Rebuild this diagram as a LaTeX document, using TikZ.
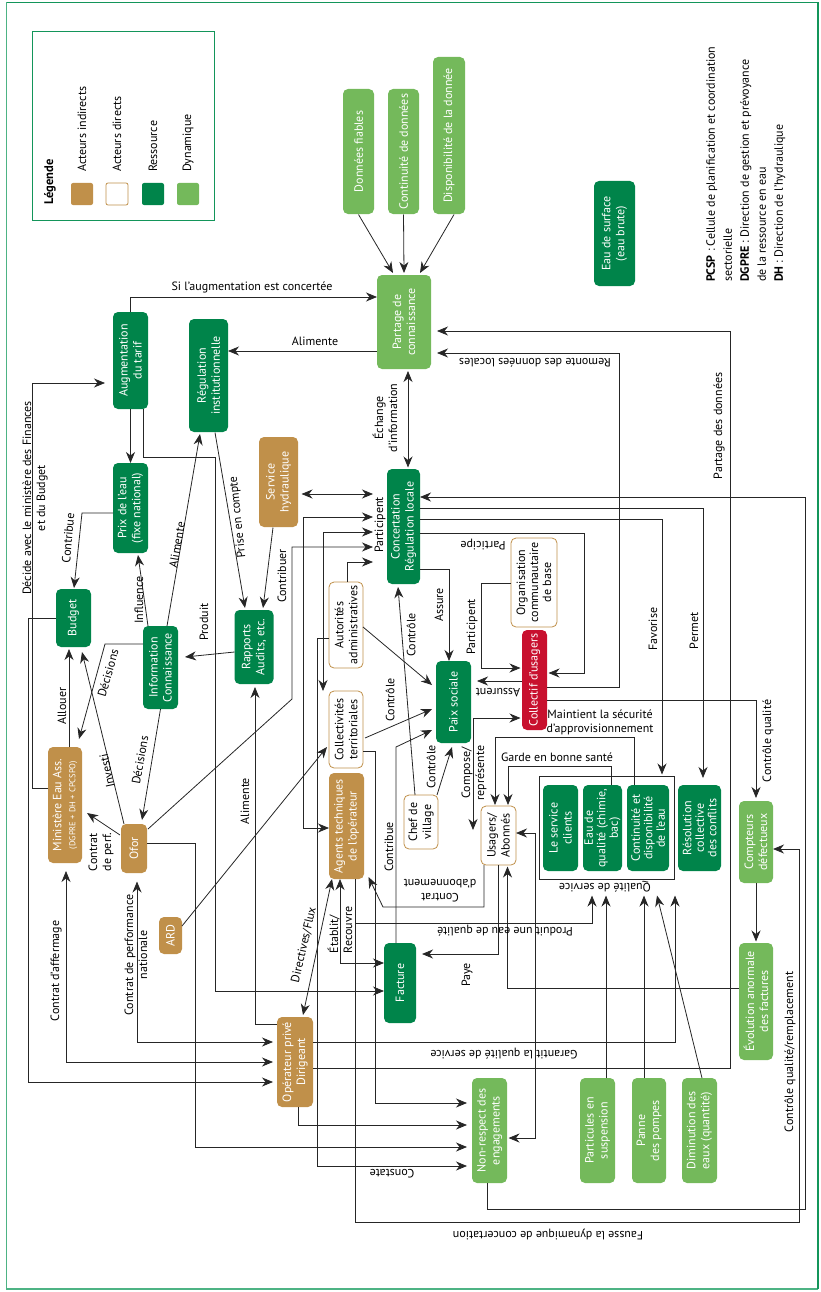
\documentclass[tikz,border=0pt]{standalone}
\usepackage{fontspec}
\setmainfont{PT Sans}
\usetikzlibrary{arrows.meta,calc}
\definecolor{cind}{HTML}{C0904A}
\definecolor{cres}{HTML}{00844A}
\definecolor{cdyn}{HTML}{74B95B}
\definecolor{cred}{HTML}{C8102E}
\definecolor{cframe}{HTML}{13955A}
\definecolor{cframel}{HTML}{4DB384}
\newcommand{\nf}{\fontsize{12}{14}\selectfont}
\begin{document}
\begin{tikzpicture}[x=1pt,y=-1pt,
  box/.style={rounded corners=5pt, inner sep=0.5pt, align=center, rotate=90, font=\nf},
  sz/.style 2 args={minimum height=#1pt, minimum width=#2pt},
  res/.style={box, fill=cres, text=white},
  dyn/.style={box, fill=cdyn, text=white},
  ind/.style={box, fill=cind, text=white},
  dir/.style={box, draw=cind, line width=0.8pt, fill=white, text=black},
  coll/.style={box, fill=cred, text=white},
  lab/.style={font=\nf, inner sep=1pt, align=center},
  labr/.style={lab, rotate=90},
  labu/.style={lab, rotate=180},
  ln/.style={draw=black!85, line width=0.8pt},
  arr/.style={ln, -{Stealth[length=11pt,width=9pt,inset=3.5pt]}},
  arr2/.style={ln, {Stealth[length=11pt,width=9pt,inset=3.5pt]}-{Stealth[length=11pt,width=9pt,inset=3.5pt]}}
]
\useasboundingbox (0,0) rectangle (820,1292);
\draw[cframel, line width=1.2pt] (818,1289) -- (6.5,1289) -- (6.5,2.5);
\draw[cframe, line width=1.2pt] (6.5,2.5) -- (818,2.5) -- (818,1289);

% legend
\draw[cframe, line width=0.8pt] (32,31) rectangle (214,220);
\node[labr, anchor=west, font=\fontsize{12.5}{14}\selectfont\bfseries] (lgt) at (50,206) {Légende};
\node[ind, minimum size=22pt, rounded corners=2pt] (lg1) at (82,194) {};
\node[dir, minimum size=22pt, rounded corners=2pt] (lg2) at (117,194) {};
\node[res, minimum size=22pt, rounded corners=2pt] (lg3) at (153,194) {};
\node[dyn, minimum size=22pt, rounded corners=2pt] (lg4) at (188,194) {};
\node[labr, anchor=west] (lgl1) at (82,173) {Acteurs indirects};
\node[labr, anchor=west] (lgl2) at (117,173) {Acteurs directs};
\node[labr, anchor=west] (lgl3) at (153,173) {Ressource};
\node[labr, anchor=west] (lgl4) at (188,173) {Dynamique};

% notes
\node[labr, anchor=north west, align=left, font=\fontsize{12}{17}\selectfont] (notes) at (705,283)
 {\textbf{PCSP} : Cellule de planification et coordination\\sectorielle\\\textbf{DGPRE} : Direction de gestion et prévoyance\\de la ressource en eau\\\textbf{DH} : Direction de l'hydraulique};

% dynamique
\node[dyn,sz={31}{125}] (donnees) at (358.5,151.5) {Données fiables};
\node[dyn,sz={31}{125}] (continuite) at (403.5,151.5) {Continuité de données};
\node[dyn,sz={32}{157}] (dispo) at (449,135.5) {Disponibilité de la donnée};
\node[dyn,sz={54}{94}] (partage) at (404,322) {Partage de\\connaissance};
\node[dyn,sz={34}{82}] (compteurs) at (756,842) {Compteurs\\défectueux};
\node[dyn,sz={34}{117}] (evolution) at (756,1001.5) {Évolution anormale\\des factures};
\node[dyn,sz={35}{105}] (nonrespect) at (489.5,1130.5) {Non-respect des\\engagements};
\node[dyn,sz={35}{105}] (particules) at (597.5,1130.5) {Particules en\\suspension};
\node[dyn,sz={34}{105}] (panne) at (649,1130.5) {Panne\\des pompes};
\node[dyn,sz={35}{105}] (diminution) at (699.5,1130.5) {Diminution des\\eaux (quantité)};

% ressources
\node[res,sz={41}{105}] (eausurf) at (614.5,233.5) {Eau de surface\\(eau brute)};
\node[res,sz={35}{97}] (augm) at (130.5,360.5) {Augmentation\\du tarif};
\node[res,sz={39}{113}] (regul) at (208.5,375.5) {Régulation\\institutionnelle};
\node[res,sz={35}{90}] (prix) at (130.5,508) {Prix de l'eau\\(fixe national)};
\node[res,sz={35}{58}] (budget) at (73.5,618) {Budget};
\node[res,sz={35}{83}] (info) at (160.5,667.5) {Information\\Connaissance};
\node[res,sz={39}{74}] (rapports) at (254,647) {Rapports\\Audits, etc.};
\node[res,sz={33}{115}] (concert) at (403.5,526.5) {Concertation\\Régulation locale};
\node[res,sz={35}{82}] (paix) at (453.5,702) {Paix sociale};
\node[res,sz={32}{80}] (facture) at (400,983) {Facture};
\node[draw=black!85, line width=0.8pt, minimum width=135pt, minimum height=103pt, inner sep=0pt] (qualite) at (606.5,827.5) {};
\node[res,sz={35}{86}] (servcli) at (560.5,828) {Le service\\clients};
\node[res,sz={39}{86}, font=\fontsize{12}{12.5}\selectfont] (eauqual) at (602.5,828) {Eau de\\qualité (chimie,\\bac)};
\node[res,sz={42}{86}, font=\fontsize{12}{12.5}\selectfont] (contdisp) at (648,828) {Continuité et\\disponibilité\\de l'eau};
\node[res,sz={43}{86}, font=\fontsize{12}{12.5}\selectfont] (resol) at (699.5,828) {Résolution\\collective\\des conflits};

% acteurs indirects
\node[ind,sz={39}{90}] (shydr) at (278.5,482) {Service\\hydraulique};
\node[ind,sz={35}{106}] (agents) at (346.5,826) {Agents techniques\\de l'opérateur};
\node[ind,sz={36}{90}] (operateur) at (295,1062) {Opérateur privé\\Dirigeant};
\node[ind,sz={34}{116}] (ministere) at (65,805) {Ministère Eau Ass.\\{\fontsize{8.5}{10}\selectfont (DGPRE + DH + CPCSPO)}};
\node[ind,sz={26}{49}] (ofor) at (134,848.5) {Ofor};
\node[ind,sz={23}{37}] (ard) at (170.5,935.5) {ARD};

% acteurs directs
\node[dir,sz={46}{89}, font=\fontsize{12}{13}\selectfont] (orga) at (534,582.5) {Organisation\\communautaire\\de base};
\node[dir,sz={34}{86}] (autorites) at (346,625) {Autorités\\administratives};
\node[dir,sz={34}{77}] (collectivites) at (346,729.5) {Collectivités\\territoriales};
\node[dir,sz={34}{54}] (chef) at (421,822) {Chef de\\village};
\node[dir,sz={35}{59}] (usagers) at (498.5,835.5) {Usagers/\\Abonnés};
\node[coll,sz={25}{100}] (collectif) at (534.5,680) {Collectif d'usagers};

% ---------------- connectors ----------------
\draw[arr] ($(augm)+(0,-48.5)$) |- ($(partage)+(-27,-25)$);
\node[lab] (t1) at (252,287) {Si l'augmentation est concertée};
\draw[arr] ($(partage)+(-27,29)$) -- ($(regul)+(19.5,-24.5)$);
\node[lab] (t2) at (315,341) {Alimente};
\draw[arr] ($(operateur)+(18,6)$) -- (730,1068) -- (730,331) -- ($(partage)+(33,9)$);
\node[labr] (t3) at (719,426) {Partage des données};
\node[labu] (t4) at (504,1054) {Garantit la qualité de service};
\draw[arr] ($(collectif)+(12.5,7)$) -- (619,687) -- (619,353) -- ($(partage)+(33,31)$);
\node[labu] (t5) at (535,363) {Remonte des données locales};
\draw[arr] ($(donnees)+(0,63)$) -- ($(partage)+(-11,-49)$);
\draw[arr] ($(continuite)+(0,63)$) -- ($(partage)+(0,-49)$);
\draw[arr] ($(dispo)+(5,79)$) -- ($(partage)+(16,-49)$);
\draw[arr2] ($(partage)+(4,49)$) -- ($(concert)+(4.5,-59)$);
\node[labr] (t6) at (385,418) {Échange\\d'information};
\draw[arr2] ($(shydr)+(23,12)$) -- ($(concert)+(-30.5,-32.5)$);
\draw[arr2] ($(agents)+(-17.5,2)$) -| (303,517) -- ($(concert)+(-30.5,-9.5)$);
\draw[arr2] ($(concert)+(-30.5,5.5)$) -| ($(collectivites)+(-23,-38.5)$);
\draw[arr] ($(ofor)+(14,-19.5)$) -- (292,699) |- ($(concert)+(-30.5,20.5)$);
\node[labr] (t7) at (282,576) {Contribuer};
\draw[arr] ($(autorites)+(1,-43)$) |- ($(concert)+(-30.5,35.5)$);
\node[labr] (t8) at (380,525) {Participent};
\draw[arr] ($(autorites)+(-17,13)$) -- (317,638) -- (317,1166) -- ($(nonrespect)+(-22.5,35.5)$);
\node[labu] (t9) at (392,1174) {Constate};
\draw[arr] ($(concert)+(16.5,42.5)$) -| ($(paix)+(-4.5,-41)$);
\node[labr] (t10) at (439,605) {Assure};
\draw[arr] ($(nonrespect)+(-2.5,52.5)$) -- (487,1209) -- (805,1209) -- (805,497) -- ($(concert)+(16.5,-29.5)$);
\node[labu] (t11) at (548,1235) {Fausse la dynamique de concertation};
\draw[arr] ($(concert)+(16.5,-18.5)$) -| ($(resol)+(3.5,-50)$);
\node[labr] (t12) at (694,631) {Permet};
\draw[arr] ($(concert)+(16.5,-7.5)$) -| ($(qualite)+(55.5,-53)$);
\node[labr] (t13) at (653,629) {Favorise};
\draw[arr] ($(concert)+(16.5,6.5)$) -- (584,533) -- (584,673) -- ($(collectif)+(14,-7)$);
\node[labu] (t14) at (483,545) {Participe};
\draw[arr] ($(orga)+(-23,0.5)$) -- (481,583) -- (481,668) -- ($(collectif)+(-14,-12)$);
\node[labr] (t15) at (472,627) {Participent};
\draw[arr] ($(collectif)+(-12.5,1)$) -- ($(paix)+(23.5,-21)$);
\node[labu] (t16) at (498,693) {Assurent};
\draw[arr2] ($(collectif)+(-14,38)$) -- (473,718) -- ($(usagers)+(-25.5,-5.5)$);
\node[labr] (t17) at (474,773) {Compose/\\représente};
\draw[arr] ($(collectif)+(12.5,20)$) -| ($(compteurs)+(0,-44)$);
\node[labr] (t18) at (768,741) {Contrôle qualité};
\draw[arr] ($(contdisp)+(-14,-43)$) |- (495,737) -- ($(usagers)+(-3.5,-30.5)$);
\node[lab] (t19) at (600,722) {Maintient la sécurité\\d'approvisionnement};
\draw[arr] ($(eauqual)+(8.5,-43)$) |- (508,766) -- ($(usagers)+(9.5,-30.5)$);
\node[lab] (t20) at (557,757) {Garde en bonne santé};
\draw[arr] ($(usagers)+(-14.5,29.5)$) -- (484,907) -- (383,907) -- ($(agents)+(22,51)$);
\node[labu] (t21) at (440,891) {Contrat\\d'abonnement};
\draw[arr] ($(usagers)+(0,29.5)$) |- ($(facture)+(22,-29)$);
\node[labr] (t22) at (467,975) {Paye};
\draw[arr] ($(evolution)+(-17,-13.5)$) -| ($(usagers)+(9,31)$);
\draw[arr2] ($(usagers)+(17.5,-2.5)$) -- (535,833) -- (535,1138) -- ($(nonrespect)+(19,7.5)$);
\draw[arr] ($(agents)+(8.5,53)$) |- (592,923) -- ($(qualite)+(-14.5,68)$);
\node[labu] (t23) at (505,931) {Produit une eau de qualité};
\node[labu] (t24) at (605,887) {Qualité de service};
\draw[arr] ($(agents)+(8.5,53)$) -- (355,1222) -- (799,1222) -- (799,849) -- ($(compteurs)+(17,7)$);
\node[labr] (t25) at (790,1052) {Contrôle qualité/remplacement};
\draw[arr] ($(particules)+(8.5,-52.5)$) -- ($(qualite)+(-0.5,68)$);
\draw[arr] ($(panne)+(-5,-52.5)$) -- ($(qualite)+(37.5,68)$);
\draw[arr] ($(diminution)+(2.5,-52.5)$) -- ($(qualite)+(50.5,68)$);
\draw[arr] ($(operateur)+(18,-20)$) -| ($(qualite)+(68.5,68)$);
\draw[arr] ($(compteurs)+(0,41)$) -- ($(evolution)+(0,-60)$);
\draw[arr2] ($(agents)+(-6.5,53)$) |- ($(facture)+(-16,-20)$);
\node[labr, align=left] (t26) at (340,930) {Établit/\\Recouvre};
\draw[arr2] ($(agents)+(-14.5,53)$) -- ($(operateur)+(8,-47)$);
\node[lab, rotate=77] (t27) at (304,945) {Directives/Flux};
\draw[arr] ($(collectivites)+(17,21.5)$) -- (375,751) -- (375,1103) -- ($(nonrespect)+(-22.5,-27.5)$);
\draw[arr] ($(operateur)+(3,45)$) |- ($(nonrespect)+(-22.5,-5.5)$);
\draw[arr] ($(ofor)+(13,-5.5)$) -- (195,843) |- ($(nonrespect)+(-22.5,16.5)$);
\draw[arr] ($(augm)+(12.5,48.5)$) -- (143,457) -- (215,457) |- ($(facture)+(-16,8)$);
\node[labr] (t28) at (204,622) {Produit};
\draw[arr] ($(operateur)+(-18,-38)$) -| ($(rapports)+(1,40)$);
\node[labr] (t29) at (245,801) {Alimente};
\draw[arr] ($(augm)+(0,48.5)$) -- ($(prix)+(0,-45)$);
\draw[arr] ($(info)+(-12.5,-41.5)$) -- ($(prix)+(7.5,47)$);
\node[labr] (t30) at (139,600) {Influence};
\draw[arr] ($(info)+(6.5,-41.5)$) -- ($(regul)+(-8.5,58.5)$);
\node[lab, rotate=80] (t31) at (177,545) {Alimente};
\draw[arr] ($(regul)+(6.5,57)$) -- ($(rapports)+(-9,-39)$);
\node[lab, rotate=96] (t32) at (238,517) {Prise en compte};
\draw[arr] ($(shydr)+(-5.5,45.5)$) -- ($(rapports)+(9,-39)$);
\draw[arr] ($(rapports)+(-19.5,5)$) -- ($(info)+(24.5,-10.5)$);
\draw[arr] ($(prix)+(-17.5,5)$) -- (82,513) -- ($(budget)+(0.5,-30)$);
\node[lab, rotate=85] (t33) at (68,538) {Contribue};
\draw[arr] ($(ministere)+(-17,-17)$) -- (32,788) |- ($(augm)+(-25.5,22.5)$);
\node[labr] (t34) at (35,498) {Décide avec le ministère des Finances\\et du Budget};
\draw[arr] ($(budget)+(-17.5,0)$) -- (28,618) |- ($(operateur)+(-22,20)$);
\draw[arr2] ($(ministere)+(1,66)$) -- (66,1062) -- ($(operateur)+(-22,0)$);
\node[labr] (t35) at (56,971) {Contrat d'affermage};
\draw[arr2] ($(ofor)+(3,33)$) -- (137,1042) -- ($(operateur)+(-22,-20)$);
\node[labr] (t36) at (136,955) {Contrat de performance\\nationale};
\draw[arr] ($(ministere)+(4,-58)$) -- ($(budget)+(-4.5,31)$);
\node[labr] (t37) at (62,706) {Allouer};
\draw[arr] ($(info)+(-17.5,-23.5)$) -- (105,644) -- ($(ministere)+(14,-66)$);
\node[lab, rotate=74] (t38) at (108,673) {Décisions};
\draw[arr] ($(ofor)+(-10,-24.5)$) -- ($(budget)+(8.5,34)$);
\node[lab, rotate=102] (t39) at (107,771) {Investi};
\draw[arr] ($(info)+(0,41.5)$) -- ($(ofor)+(8,-28.5)$);
\node[lab, rotate=80] (t40) at (140,760) {Décisions};
\draw[arr] ($(ofor)+(-14,-13.5)$) -- ($(ministere)+(22,8)$);
\node[labr, align=left] (t41) at (101,852) {Contrat\\de perf.};
\draw[arr] ($(ard)+(11.5,-9.5)$) -- ($(collectivites)+(-19,17.5)$);
\draw[arr] ($(autorites)+(17,2)$) -- ($(paix)+(-21.5,-17)$);
\draw[arr] ($(collectivites)+(19,8.5)$) -- ($(paix)+(-21.5,7)$);
\node[labr] (t42) at (390,700) {Contrôle};
\draw[arr] ($(facture)+(-4,-40)$) -- (396,747) -- ($(paix)+(-21.5,28)$);
\node[labr] (t43) at (389,847) {Contribue};
\draw[arr] ($(chef)+(-6,-27)$) -- ($(concert)+(-5.5,60.5)$);
\node[labr] (t44) at (411,635) {Contrôle};
\draw[arr] ($(chef)+(16,-27)$) -- ($(paix)+(-1.5,45)$);
\node[labr] (t45) at (431,767) {Contrôle};
\end{tikzpicture}
\end{document}
